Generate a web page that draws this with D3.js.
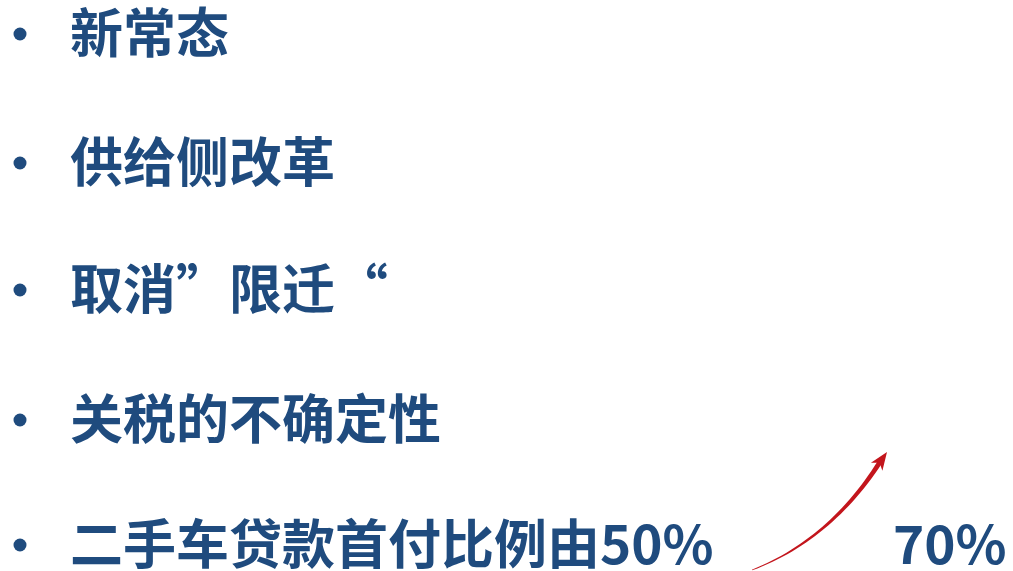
<!DOCTYPE html>
<html><head><meta charset="utf-8">
<script src="https://cdn.jsdelivr.net/npm/d3@7"></script>
<style>html,body{margin:0;padding:0;background:#fff;overflow:hidden}</style>
</head><body>
<svg id="c" width="1013" height="571"></svg>
<script>
const items = ["新常态", "供给侧改革", "取消”限迁“", "关税的不确定性", "二手车贷款首付比例由50%"];
const targetLabel = ["70%"];
const lineCenters = [34, 163, 290, 420, 545];

const svg = d3.select("#c");
const color = "#1F4B7E";
const fs = 53;
const y = d3.scaleOrdinal().domain(items).range(lineCenters);

const g = svg.selectAll("g.item").data(items).enter().append("g").attr("class","item");
g.append("circle").attr("cx",20).attr("cy",d=>y(d)).attr("r",6.5).attr("fill",color);
g.append("text").attr("x",70).attr("y",d=>y(d)+19)
  .attr("font-family","'Noto Sans CJK SC','Noto Sans',sans-serif")
  .attr("font-weight",700).attr("font-size",fs).attr("fill",color)
  .text(d=>d);

svg.append("text").attr("x",893).attr("y",y(items[4])+19)
  .attr("font-family","'Noto Sans CJK SC','Noto Sans',sans-serif")
  .attr("font-weight",700).attr("font-size",fs).attr("fill",color)
  .text(targetLabel[0]);

// curved red arrow (tapered)
const p0=[752,570], c1=[830,540], p1=[880,462];
const n=30, pts=[];
for(let i=0;i<=n;i++){const t=i/n;
  const x=(1-t)*(1-t)*p0[0]+2*(1-t)*t*c1[0]+t*t*p1[0];
  const yy=(1-t)*(1-t)*p0[1]+2*(1-t)*t*c1[1]+t*t*p1[1];
  const dx=2*(1-t)*(c1[0]-p0[0])+2*t*(p1[0]-c1[0]);
  const dy=2*(1-t)*(c1[1]-p0[1])+2*t*(p1[1]-c1[1]);
  const l=Math.hypot(dx,dy); pts.push({x,y:yy,nx:-dy/l,ny:dx/l,w:0.4+2.0*t});}
const left=pts.map(p=>[p.x+p.nx*p.w,p.y+p.ny*p.w]);
const right=pts.map(p=>[p.x-p.nx*p.w,p.y-p.ny*p.w]).reverse();
svg.append("path").attr("d",d3.line()(left.concat(right))+"Z").attr("fill","#C3151C");
// arrow head
const tip=[887,452];
const last=pts[n];
const ax=tip[0]-last.x, ay=tip[1]-last.y, al=Math.hypot(ax,ay);
const ux=ax/al, uy=ay/al;
const base=[tip[0]-ux*18, tip[1]-uy*18];
svg.append("path").attr("d",d3.line()([tip,[base[0]-uy*7,base[1]+ux*7],[base[0]+ux*5,base[1]+uy*5],[base[0]+uy*7,base[1]-ux*7]])+"Z")
  .attr("fill","#C3151C");
</script>
</body></html>
